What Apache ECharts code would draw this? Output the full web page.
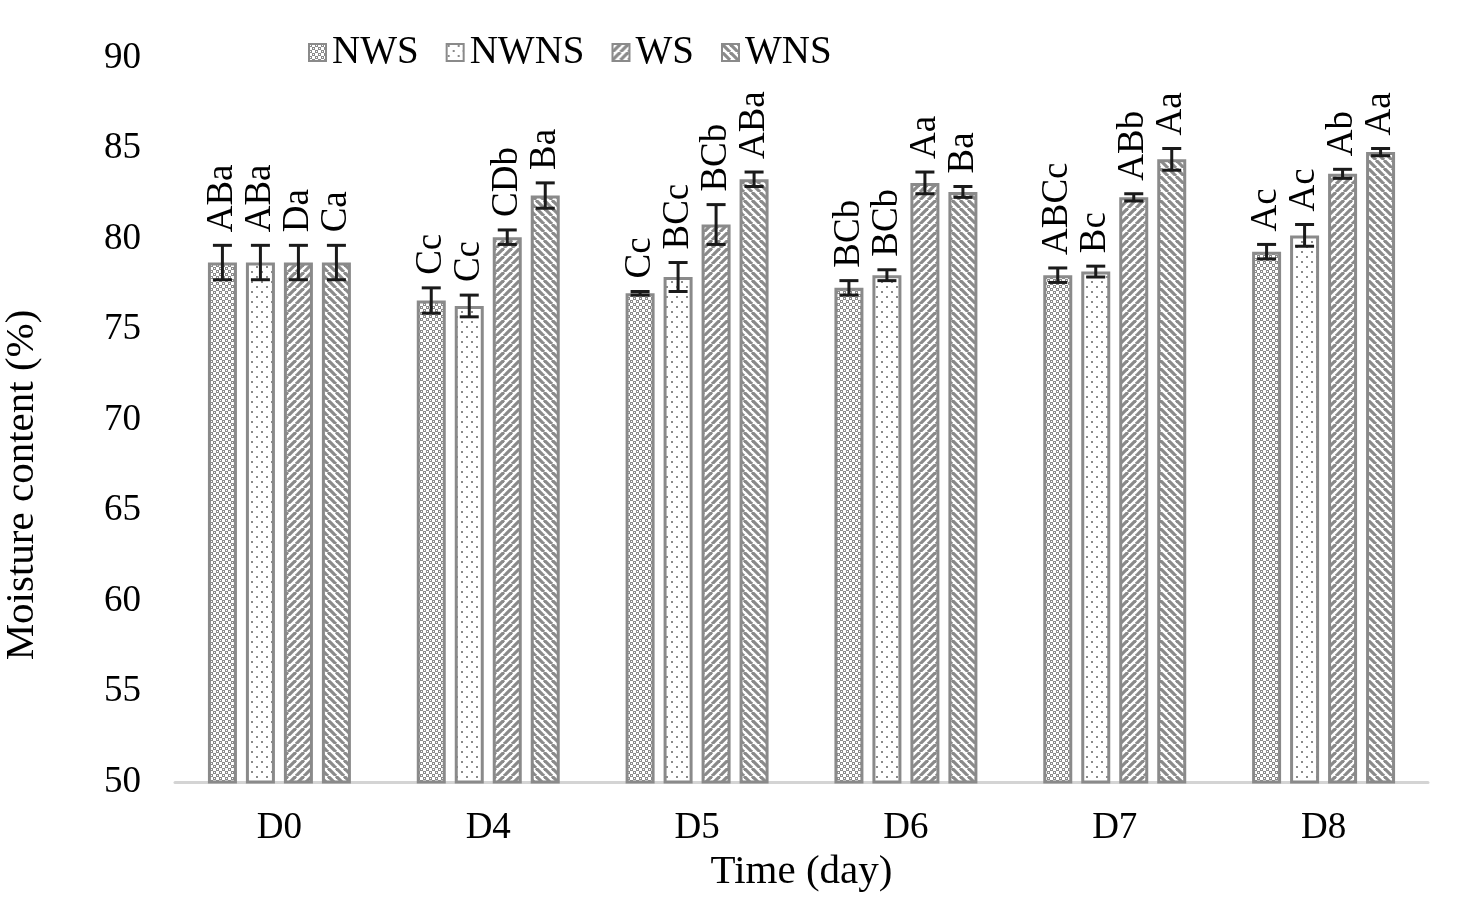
<!DOCTYPE html>
<html>
<head>
<meta charset="utf-8">
<script src="https://cdn.jsdelivr.net/npm/echarts@6/dist/echarts.min.js"></script>
<style>html,body{margin:0;padding:0;background:#fff;}#c{width:1482px;height:901px;}</style>
</head>
<body>
<div id="c"></div>
<script>
const categories = ['D0','D4','D5','D6','D7','D8'];
const seriesNames = ['NWS','NWNS','WS','WNS'];
const NWS  = [78.7, 76.6, 77.0, 77.3, 78.0, 79.3];
const NWNS = [78.7, 76.3, 77.9, 78.0, 78.2, 80.2];
const WS   = [78.7, 80.1, 80.8, 83.1, 82.3, 83.6];
const WNS  = [78.7, 82.4, 83.3, 82.6, 84.4, 84.8];
const NWS_err  = [0.95, 0.7, 0.1, 0.4, 0.4, 0.4];
const NWNS_err = [0.95, 0.6, 0.8, 0.3, 0.3, 0.6];
const WS_err   = [0.95, 0.4, 1.1, 0.6, 0.2, 0.25];
const WNS_err  = [0.95, 0.7, 0.4, 0.3, 0.6, 0.2];
const NWS_lab  = ['ABa','Cc','Cc','BCb','ABCc','Ac'];
const NWNS_lab = ['ABa','Cc','BCc','BCb','Bc','Ac'];
const WS_lab   = ['Da','CDb','BCb','Aa','ABb','Ab'];
const WNS_lab  = ['Ca','Ba','ABa','Ba','Aa','Aa'];
const yTicks = [50,55,60,65,70,75,80,85,90];

const values = [NWS, NWNS, WS, WNS];
const errs = [NWS_err, NWNS_err, WS_err, WNS_err];
const labs = [NWS_lab, NWNS_lab, WS_lab, WNS_lab];

const GRAY = '#8a8a8a';
function makePattern(kind){
  const c = document.createElement('canvas');
  const s = kind === 'dots' ? 10 : (kind === 'grid' ? 6 : 8);
  c.width = s; c.height = s;
  const g = c.getContext('2d');
  g.fillStyle = '#fff'; g.fillRect(0,0,s,s);
  g.fillStyle = GRAY;
  if (kind === 'grid') {
    g.fillRect(0,0,3,3); g.fillRect(3,3,3,3);
    g.fillStyle = '#fff';
    g.fillRect(1,1,1,1); g.fillRect(4,4,1,1);
  } else if (kind === 'dots') {
    g.fillRect(1,1,2,2); g.fillRect(6,6,2,2);
  } else {
    g.strokeStyle = GRAY; g.lineWidth = 3.2;
    for (let k=-1;k<=1;k++){
      g.beginPath();
      if (kind === 'up') { g.moveTo(k*s, s); g.lineTo(k*s+s, 0); }
      else { g.moveTo(k*s, 0); g.lineTo(k*s+s, s); }
      g.stroke();
    }
  }
  return {image: c, repeat: 'repeat'};
}
const patterns = [makePattern('grid'), makePattern('dots'), makePattern('up'), makePattern('down')];

const BAR_W = 32, STEP = 38;
const FONT = '"Liberation Serif","Times New Roman",serif';

const series = [];
seriesNames.forEach((name, i) => {
  series.push({
    name: name, type: 'bar', data: values[i],
    barWidth: BAR_W - 3, barGap: ((STEP - BAR_W + 3) / (BAR_W - 3) * 100).toFixed(1) + '%',
    itemStyle: {color: patterns[i], borderColor: GRAY, borderWidth: 3},
    emphasis: {disabled: true}
  });
});
seriesNames.forEach((name, i) => {
  series.push({
    type: 'custom', name: name + '_err', silent: true, z: 10,
    data: values[i].map((v, j) => [j, v, errs[i][j]]),
    renderItem: function(params, api){
      const j = api.value(0), v = api.value(1), e = api.value(2);
      const c = api.coord([j, v]);
      const x = c[0] + (i - 1.5) * STEP;
      const top = api.coord([j, v + e])[1];
      const bot = api.coord([j, v - e])[1];
      const hw = 9.5;
      const st = {stroke: '#1a1a1a', lineWidth: 3};
      return {type: 'group', children: [
        {type: 'line', shape: {x1: x, y1: top, x2: x, y2: bot}, style: st},
        {type: 'line', shape: {x1: x-hw, y1: top, x2: x+hw, y2: top}, style: st},
        {type: 'line', shape: {x1: x-hw, y1: bot, x2: x+hw, y2: bot}, style: st},
        {type: 'text', x: x, y: top - 13, rotation: Math.PI/2,
         style: {text: labs[i][j], align: 'left', verticalAlign: 'middle',
                 font: '37px ' + FONT, fill: '#000'}}
      ]};
    }
  });
});

const chart = echarts.init(document.getElementById('c'));
chart.setOption({
  animation: false,
  backgroundColor: '#fff',
  grid: {left: 175, right: 54, top: 58, bottom: 119},
  legend: {
    data: seriesNames, left: 303, top: 28, itemWidth: 17, itemHeight: 17, itemGap: 27,
    icon: 'rect',
    textStyle: {fontFamily: FONT, fontSize: 39, color: '#000', padding: [0,0,0,1]}
  },
  xAxis: {
    type: 'category', data: categories,
    axisLine: {lineStyle: {color: '#d4d4d4', width: 3}},
    axisTick: {show: false},
    axisLabel: {fontFamily: FONT, fontSize: 37, color: '#000', margin: 28},
    name: 'Time (day)', nameLocation: 'middle', nameGap: 64,
    nameTextStyle: {fontFamily: FONT, fontSize: 41, color: '#000'}
  },
  yAxis: {
    type: 'value', min: yTicks[0], max: yTicks[yTicks.length-1], interval: 5,
    axisLine: {show: false}, axisTick: {show: false}, splitLine: {show: false},
    axisLabel: {fontFamily: FONT, fontSize: 37, color: '#000', margin: 34}
  },
  graphic: [{
    type: 'text', x: 22, y: 485, rotation: Math.PI/2,
    style: {text: 'Moisture content (%)', align: 'center', verticalAlign: 'middle',
            font: '41px ' + FONT, fill: '#000'}
  }],
  series: series
});
</script>
</body>
</html>
